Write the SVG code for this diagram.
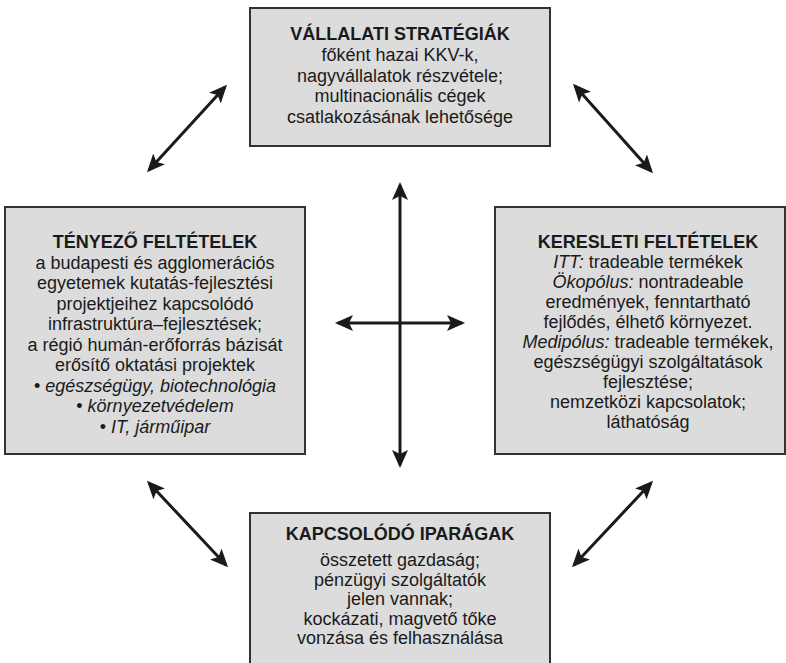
<svg xmlns="http://www.w3.org/2000/svg" width="786" height="663" viewBox="0 0 786 663">
<defs>
<style>
.box{fill:#dcdcdc;stroke:#333;stroke-width:2}
.t{font-family:"Liberation Sans",Arial,sans-serif;font-size:18px;fill:#1a1a1a;text-anchor:middle}
.b{font-weight:bold}
.i{font-style:italic}
.arr{stroke:#1a1a1a;stroke-width:3;fill:none;marker-start:url(#ah);marker-end:url(#ah)}
</style>
<marker id="ah" viewBox="0 0 18 16" markerWidth="18" markerHeight="16" refX="15" refY="8" orient="auto-start-reverse" markerUnits="userSpaceOnUse">
<path d="M0,0 L18,8 L0,16 L4,8 Z" fill="#1a1a1a"/>
</marker>
</defs>
<rect width="786" height="663" fill="#fff"/>
<g id="vallalati">
<rect class="box" x="250" y="8" width="300" height="138"/>
<text class="t b" x="400" y="40">VÁLLALATI STRATÉGIÁK</text>
<text class="t" x="400" y="61">főként hazai KKV-k,</text>
<text class="t" x="400" y="81.5">nagyvállalatok részvétele;</text>
<text class="t" x="400" y="102">multinacionális cégek</text>
<text class="t" x="400" y="122.5">csatlakozásának lehetősége</text>
</g>
<g id="tenyezo">
<rect class="box" x="5" y="207" width="300" height="247"/>
<text class="t b" x="155" y="248">TÉNYEZŐ FELTÉTELEK</text>
<text class="t" x="155" y="268.5">a budapesti és agglomerációs</text>
<text class="t" x="155" y="289">egyetemek kutatás-fejlesztési</text>
<text class="t" x="155" y="309.5">projektjeihez kapcsolódó</text>
<text class="t" x="155" y="330">infrastruktúra–fejlesztések;</text>
<text class="t" x="155" y="350.5">a régió humán-erőforrás bázisát</text>
<text class="t" x="155" y="371">erősítő oktatási projektek</text>
<text class="t" x="155" y="391.5">• <tspan class="i">egészségügy, biotechnológia</tspan></text>
<text class="t" x="155" y="412">• <tspan class="i">környezetvédelem</tspan></text>
<text class="t" x="155" y="432.5">• <tspan class="i">IT, járműipar</tspan></text>
</g>
<g id="keresleti">
<rect class="box" x="495" y="207" width="290" height="247"/>
<text class="t b" x="648" y="248">KERESLETI FELTÉTELEK</text>
<text class="t" x="648" y="268"><tspan class="i">ITT:</tspan> tradeable termékek</text>
<text class="t" x="648" y="288"><tspan class="i">Ökopólus:</tspan> nontradeable</text>
<text class="t" x="648" y="308">eredmények, fenntartható</text>
<text class="t" x="648" y="328">fejlődés, élhető környezet.</text>
<text class="t" x="648" y="348"><tspan class="i">Medipólus:</tspan> tradeable termékek,</text>
<text class="t" x="648" y="368">egészségügyi szolgáltatások</text>
<text class="t" x="648" y="388">fejlesztése;</text>
<text class="t" x="648" y="408">nemzetközi kapcsolatok;</text>
<text class="t" x="648" y="428">láthatóság</text>
</g>
<g id="kapcsolodo">
<rect class="box" x="250" y="513" width="300" height="160"/>
<text class="t b" x="400" y="540">KAPCSOLÓDÓ IPARÁGAK</text>
<text class="t" x="400" y="566">összetett gazdaság;</text>
<text class="t" x="400" y="585.5">pénzügyi szolgáltatók</text>
<text class="t" x="400" y="605">jelen vannak;</text>
<text class="t" x="400" y="624.5">kockázati, magvető tőke</text>
<text class="t" x="400" y="644">vonzása és felhasználása</text>
</g>
<g id="connectors">
<line class="arr" x1="149" y1="170" x2="225" y2="87"/>
<line class="arr" x1="575" y1="86" x2="651" y2="171"/>
<line class="arr" x1="149" y1="483" x2="226" y2="565"/>
<line class="arr" x1="651" y1="483" x2="574" y2="565"/>
<line class="arr" x1="400" y1="185" x2="400" y2="465"/>
<line class="arr" x1="338" y1="323" x2="462" y2="323"/>
</g>
</svg>
